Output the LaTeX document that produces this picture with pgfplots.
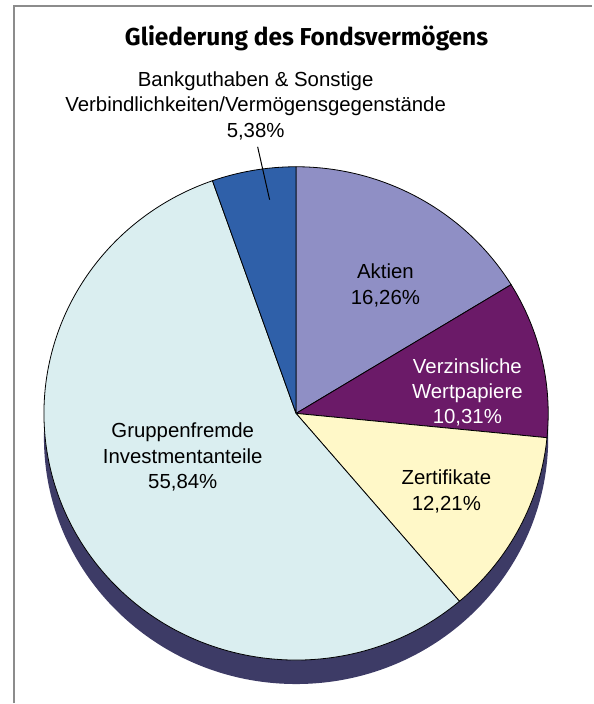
\documentclass[border=0pt]{standalone}
\usepackage{pgfplots}
\pgfplotsset{compat=1.18}
\usepackage{fontspec}
\setmainfont{Liberation Sans}
\newfontfamily\titlefont{Fira Sans}

\definecolor{aktien}{RGB}{143,143,197}
\definecolor{verz}{RGB}{107,26,104}
\definecolor{zert}{RGB}{255,248,200}
\definecolor{gruppe}{RGB}{218,238,240}
\definecolor{bank}{RGB}{47,96,169}
\definecolor{rand}{RGB}{61,59,102}
\definecolor{rahmen}{RGB}{140,140,140}

\begin{document}
\begin{tikzpicture}[lbl/.style={inner sep=0pt, align=center,
        font=\fontsize{20.4}{25.5}\selectfont}]
\begin{axis}[
    x=1pt, y=1pt,
    xmin=0, xmax=593, ymin=0, ymax=704,
    hide axis, clip=false]
  % invisible box fixing the picture size
  \path (axis cs:0,0) rectangle (axis cs:593,704);
  % frame
  \draw[rahmen, line width=2pt] (axis cs:14,0) -- (axis cs:14,698) -- (axis cs:593,698);

  \pgfplotsextra{
    \coordinate (C) at (axis cs:296.5,290);
    % side of the disc
    \fill[rand] ([yshift=-24pt]C) ellipse [x radius=252.5pt, y radius=247pt];
    \fill[rand] ([xshift=-252.5pt]C) rectangle ([xshift=252.5pt, yshift=-24pt]C);
    % slices, clockwise from 12 o'clock (percent)
    \foreach \p/\c [evaluate=\p as \cum using \prev+\p,
                    remember=\cum as \prev (initially 0)]
      in {16.26/aktien, 10.31/verz, 12.21/zert, 55.84/gruppe, 5.38/bank} {
      \pgfmathsetmacro\a{90-3.6*\prev}
      \pgfmathsetmacro\b{90-3.6*\cum}
      \filldraw[fill=\c, draw=black, line width=0.8pt, line join=round]
        (C) -- ++({252.5pt*cos(\a)},{247pt*sin(\a)})
        arc[start angle=\a, end angle=\b, x radius=252.5pt, y radius=247pt]
        -- cycle;
    }
  }

  \node[inner sep=0pt, font=\titlefont\bfseries\fontsize{24.5}{28}\selectfont] at (axis cs:307,666)
    {Gliederung des Fondsvermögens};
  \node[lbl] at (axis cs:256,598)
    {Bankguthaben \& Sonstige\\Verbindlichkeiten/Vermögensgegenstände\\5,38\%};
  \draw[black, line width=1pt] (axis cs:258,557) -- (axis cs:270,504);
  \node[lbl] at (axis cs:386,418) {Aktien\\16,26\%};
  \node[lbl, text=white] at (axis cs:468,311) {Verzinsliche\\Wertpapiere\\10,31\%};
  \node[lbl] at (axis cs:447,212) {Zertifikate\\12,21\%};
  \node[lbl] at (axis cs:183,246) {Gruppenfremde\\Investmentanteile\\55,84\%};
\end{axis}
\end{tikzpicture}
\end{document}
